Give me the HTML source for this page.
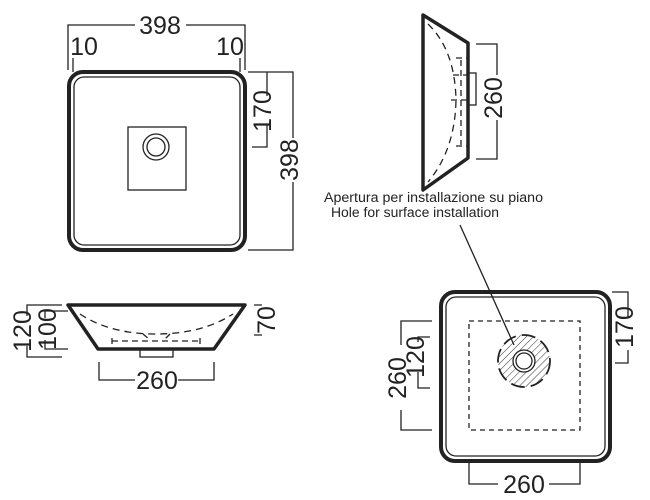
<!DOCTYPE html>
<html><head><style>body{margin:0;background:#fff}svg{display:block}text{font-family:"Liberation Sans",sans-serif;fill:#222}</style></head>
<body>
<svg width="650" height="500" viewBox="0 0 650 500" xmlns="http://www.w3.org/2000/svg">
<defs>
<pattern id="h" width="5" height="5" patternUnits="userSpaceOnUse" patternTransform="rotate(45)"><line x1="0" y1="0" x2="0" y2="5" stroke="#333" stroke-width="1"/></pattern>
<clipPath id="c"><circle cx="524" cy="361" r="26"/></clipPath>
</defs>
<g fill="none" stroke="#222">
<rect x="69" y="72" width="176" height="178" rx="14" stroke-width="4"/>
<rect x="74" y="77" width="166" height="168" rx="10" stroke-width="1.3"/>
<rect x="128" y="127" width="58" height="63" stroke-width="1.3"/>
<circle cx="156" cy="147" r="13" stroke-width="1.3"/>
<circle cx="156" cy="147" r="9" stroke-width="1.3"/>
<path d="M68 70V25H135M186 25H245V70M73 58V72M240 58V72" stroke-width="1.3"/>
<path d="M248 72H267V96M267 125V147H252M248 72H293V138M293 182V250H248" stroke-width="1.3"/>
<path d="M423 15L468 43V158L423 190Z" stroke-width="3.5" stroke-linejoin="round"/>
<path d="M428 24Q455 50 456 100Q455 150 428 182" stroke-dasharray="7,5" stroke-width="1.3"/>
<path d="M461 60V145M456 58H468M456 146H468M453 75H468M451 100H468" stroke-dasharray="6,4" stroke-width="1.3"/>
<rect x="468" y="73" width="8" height="32" stroke-width="1.3"/>
<path d="M476 44H497V75M497 120V159H476" stroke-width="1.3"/>
<line x1="460" y1="225" x2="514" y2="345" stroke-width="1.3"/>
<path d="M68 305H245L214 349H98Z" stroke-width="3.5" stroke-linejoin="round"/>
<path d="M80 314Q110 334 156 334Q202 334 233 314" stroke-dasharray="7,5" stroke-width="1.3"/>
<path d="M112 341H200M112 338V349M200 338V349M143 334L150 340M170 334L164 340" stroke-dasharray="6,4" stroke-width="1.3"/>
<rect x="140" y="349" width="33" height="8" stroke-width="1.3"/>
<path d="M62 305H27V316M27 346V357H62M68 311H45V318M45 340V349H68" stroke-width="1.3"/>
<path d="M254 305H262M254 335H262" stroke-width="1.3"/>
<path d="M99 362V380H135M178 380H214V362" stroke-width="1.3"/>
<rect x="441" y="292" width="169" height="169" rx="14" stroke-width="4"/>
<rect x="446" y="297" width="159" height="159" rx="10" stroke-width="1.3"/>
<rect x="469" y="321" width="111" height="109" stroke-dasharray="5,4" stroke-width="1.3"/>
<g clip-path="url(#c)"><rect x="495" y="332" width="60" height="60" fill="url(#h)" stroke="none"/></g>
<circle cx="524" cy="361" r="26" stroke-dasharray="14,6" stroke-width="1.8"/>
<circle cx="524" cy="361" r="11" fill="#fff" stroke-width="1.3"/>
<circle cx="524" cy="361" r="8" stroke-width="1.3"/>
<path d="M612 292H628V318M628 350V363H615" stroke-width="1.3"/>
<path d="M432 321H401V345M401 410V430H432M430 337H418V342M418 372V388H430" stroke-width="1.3"/>
<path d="M469 463V484H498M549 484H580V463" stroke-width="1.3"/>
</g>
<g font-size="25">
<text x="160" y="34" text-anchor="middle">398</text>
<text x="84" y="55" text-anchor="middle">10</text>
<text x="230" y="55" text-anchor="middle">10</text>
<text transform="translate(271,111) rotate(-90)" text-anchor="middle">170</text>
<text transform="translate(298,160) rotate(-90)" text-anchor="middle">398</text>
<text transform="translate(502,98) rotate(-90)" text-anchor="middle">260</text>
<text transform="translate(31,331) rotate(-90)" text-anchor="middle">120</text>
<text transform="translate(56,329) rotate(-90)" text-anchor="middle">100</text>
<text transform="translate(275,320) rotate(-90)" text-anchor="middle">70</text>
<text x="157" y="389" text-anchor="middle">260</text>
<text transform="translate(633,327) rotate(-90)" text-anchor="middle">170</text>
<text transform="translate(406,378) rotate(-90)" text-anchor="middle">260</text>
<text transform="translate(424,357) rotate(-90)" text-anchor="middle">120</text>
<text x="524" y="493" text-anchor="middle">260</text>
</g>
<text x="324" y="202" font-size="13.5" textLength="219" lengthAdjust="spacingAndGlyphs">Apertura per installazione su piano</text>
<text x="331" y="217" font-size="13.5" textLength="168" lengthAdjust="spacingAndGlyphs">Hole for surface installation</text>
</svg>
</body></html>
